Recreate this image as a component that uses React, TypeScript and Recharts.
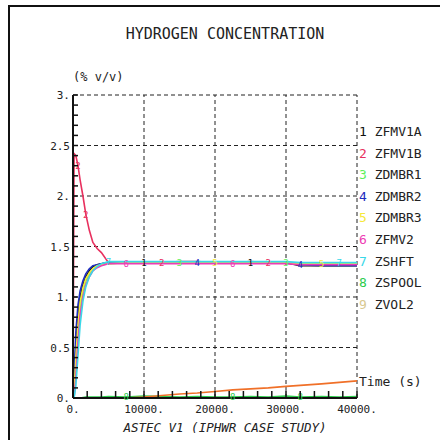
// Hydrogen concentration (ASTEC V1, IPHWR case study) redrawn with Recharts.
import { LineChart, Line, XAxis, YAxis, ReferenceLine } from "recharts";

const times = [0, 150, 400, 700, 1000, 1400, 1800, 2300, 2800, 3400, 4000, 5000, 7500, 10000, 12500, 15000, 17500, 20000, 22500, 25000, 27500, 30000, 32000, 35000, 37500, 40000];

const zfmv1a = [0, 0.12, 0.5, 0.82, 1.0, 1.12, 1.2, 1.26, 1.3, 1.32, 1.33, 1.34, 1.34, 1.34, 1.34, 1.34, 1.34, 1.34, 1.34, 1.34, 1.34, 1.34, 1.31, 1.31, 1.31, 1.31];
const zfmv1b = [0, 2.42, 2.4, 2.3, 2.16, 2.0, 1.82, 1.66, 1.54, 1.48, 1.44, 1.34, 1.34, 1.34, 1.34, 1.35, 1.35, 1.34, 1.34, 1.35, 1.34, 1.34, 1.32, 1.31, 1.31, 1.31];
const zdmbr1 = [0, 0, 0.3, 0.65, 0.9, 1.06, 1.16, 1.23, 1.28, 1.31, 1.32, 1.33, 1.34, 1.34, 1.34, 1.34, 1.34, 1.34, 1.34, 1.34, 1.34, 1.34, 1.32, 1.31, 1.31, 1.31];
const zdmbr2 = [0, 0.2, 0.65, 0.92, 1.06, 1.16, 1.23, 1.28, 1.31, 1.32, 1.33, 1.34, 1.34, 1.34, 1.34, 1.34, 1.34, 1.34, 1.34, 1.34, 1.34, 1.34, 1.32, 1.31, 1.31, 1.31];
const zdmbr3 = [0, 0.05, 0.4, 0.72, 0.95, 1.09, 1.18, 1.24, 1.28, 1.31, 1.32, 1.33, 1.34, 1.34, 1.34, 1.34, 1.34, 1.34, 1.34, 1.34, 1.34, 1.34, 1.33, 1.33, 1.33, 1.33];
const zfmv2 = [0, 0, 0.2, 0.55, 0.82, 1.0, 1.12, 1.2, 1.26, 1.29, 1.31, 1.33, 1.33, 1.33, 1.33, 1.33, 1.33, 1.33, 1.33, 1.33, 1.33, 1.33, 1.32, 1.32, 1.32, 1.32];
const zshft = [0, 0, 0.12, 0.42, 0.72, 0.96, 1.1, 1.2, 1.26, 1.3, 1.33, 1.35, 1.35, 1.35, 1.35, 1.35, 1.35, 1.35, 1.35, 1.35, 1.35, 1.35, 1.34, 1.34, 1.34, 1.34];
const zspool = [0, 0, 0, 0, 0, 0.005, 0.01, 0.01, 0.01, 0.01, 0.01, 0.015, 0.01, 0.02, 0.015, 0.01, 0.015, 0.01, 0.01, 0.015, 0.01, 0.02, 0.01, 0.015, 0.01, 0.015];
const zvol2 = [0, 0, 0, 0, 0, 0, 0, 0, 0, 0, 0, 0, 0, 0.01, 0.025, 0.04, 0.05, 0.065, 0.08, 0.09, 0.1, 0.115, 0.125, 0.14, 0.155, 0.17];

const names = ["ZFMV1A", "ZFMV1B", "ZDMBR1", "ZDMBR2", "ZDMBR3", "ZFMV2", "ZSHFT", "ZSPOOL", "ZVOL2"];
const values = [zfmv1a, zfmv1b, zdmbr1, zdmbr2, zdmbr3, zfmv2, zshft, zspool, zvol2];

const yTicks = [0, 0.1, 0.2, 0.3, 0.4, 0.5, 0.6, 0.7, 0.8, 0.9, 1, 1.1, 1.2, 1.3, 1.4, 1.5, 1.6, 1.7, 1.8, 1.9, 2, 2.1, 2.2, 2.3, 2.4, 2.5, 2.6, 2.7, 2.8, 2.9, 3];
const yLabels: Record<string, string> = { "0": "0.", "0.5": "0.5", "1": "1.", "1.5": "1.5", "2": "2.", "2.5": "2.5", "3": "3." };
const xTicks = [0, 2000, 4000, 6000, 8000, 10000, 12000, 14000, 16000, 18000, 20000, 22000, 24000, 26000, 28000, 30000, 32000, 34000, 36000, 38000, 40000];
const xLabels: Record<string, string> = { "0": "0.", "10000": "10000.", "20000": "20000.", "30000": "30000.", "40000": "40000." };
const yGrid = [0.5, 1, 1.5, 2, 2.5, 3];
const xGrid = [10000, 20000, 30000, 40000];

const lineCol = ["#111111", "#e8305e", "#5ef05a", "#1c2cc0", "#f6e83a", "#ee3cb4", "#38d8e8", "#2ccc4c", "#f07028"];
const keyCol = ["#111111", "#e8305e", "#5ef05a", "#1c2cc0", "#f6e83a", "#ee3cb4", "#38d8e8", "#2ccc4c", "#d8c890"];
// point indices that carry the curve's number, none shared between the upper curves
const marks = [
  [13, 19],
  [3, 6, 14, 20],
  [15, 21],
  [16, 22],
  [17, 23],
  [12, 18],
  [11, 24],
  [12, 18, 22],
  [],
];

const data = times.map((t, i) => {
  const row: any = { t };
  values.forEach((v, k) => (row["s" + k] = v[i]));
  return row;
});

const mono = "'DejaVu Sans Mono', monospace";

const YTick = ({ x, y, payload }: any) => {
  const lab = yLabels[String(payload.value)];
  return (
    <g>
      <line x1={x} x2={x + 5} y1={y} y2={y} stroke="#111" strokeWidth={1.5} />
      {lab && <text x={x - 3} y={y + 4} textAnchor="end" fontSize={11} fontFamily={mono} fill="#222">{lab}</text>}
    </g>
  );
};

const XTick = ({ x, y, payload }: any) => {
  const lab = xLabels[String(payload.value)];
  return (
    <g>
      <line x1={x} x2={x} y1={y} y2={y - 7} stroke="#111" strokeWidth={1.5} />
      {lab && <text x={x} y={y + 15} textAnchor="middle" fontSize={11} fontFamily={mono} fill="#222">{lab}</text>}
    </g>
  );
};

const digitDot = (k: number) => (p: any) => {
  const on = marks[k].includes(p.index);
  if (!on || p.cy == null) return <g key={p.index} />;
  return (
    <text key={p.index} x={p.cx} y={p.cy + 3.5} textAnchor="middle" fontSize={9} fontFamily={mono} fill={lineCol[k]}>{k + 1}</text>
  );
};

export default function App() {
  return (
    <div style={{ position: "absolute", left: 0, top: 0, width: 440, height: 440, background: "#fff", overflow: "hidden", fontFamily: mono, color: "#222" }}>
      <div style={{ position: "absolute", left: 8, top: 5, right: -4, bottom: -4, borderTop: "2px solid #111", borderLeft: "2px solid #111" }} />
      <div style={{ position: "absolute", left: 0, width: 450, top: 25, textAlign: "center", fontSize: 15 }}>HYDROGEN CONCENTRATION</div>
      <div style={{ position: "absolute", left: 73, top: 70, fontSize: 12 }}>(% v/v)</div>
      <LineChart width={440} height={440} data={data} margin={{ top: 95, right: 83, bottom: 12, left: 43 }}>
        {yGrid.map((v) => <ReferenceLine key={"y" + v} y={v} stroke="#222" strokeDasharray="4 3" />)}
        {xGrid.map((v) => <ReferenceLine key={"x" + v} x={v} stroke="#222" strokeDasharray="4 3" />)}
        <XAxis dataKey="t" type="number" domain={[0, 40000]} ticks={xTicks} interval={0} height={30}
          tickSize={0} tickMargin={0} tick={<XTick />} axisLine={{ stroke: "#111", strokeWidth: 2 }} />
        <YAxis type="number" domain={[0, 3]} ticks={yTicks} interval={0} width={30}
          tickSize={0} tickMargin={0} tick={<YTick />} axisLine={{ stroke: "#111", strokeWidth: 2 }} />
        {names.map((n, k) => (
          <Line key={n} dataKey={"s" + k} name={n} type="linear" stroke={lineCol[k]} strokeWidth={1.6}
            dot={digitDot(k)} activeDot={false} isAnimationActive={false} />
        ))}
      </LineChart>
      {names.map((n, k) => (
        <div key={n} style={{ position: "absolute", left: 359, top: 124 + k * 21.6, fontSize: 13, whiteSpace: "pre" }}>
          <span style={{ color: keyCol[k] }}>{k + 1}</span> {n}
        </div>
      ))}
      <div style={{ position: "absolute", left: 359, top: 374, fontSize: 13 }}>Time (s)</div>
      <div style={{ position: "absolute", left: 0, width: 450, top: 420, textAlign: "center", fontSize: 12.5, fontStyle: "italic" }}>ASTEC V1 (IPHWR CASE STUDY)</div>
    </div>
  );
}
